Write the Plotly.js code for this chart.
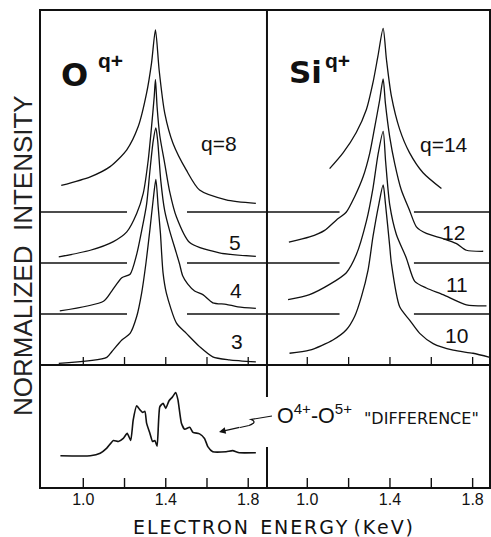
<!DOCTYPE html>
<html>
<head>
<meta charset="utf-8">
<script src="https://cdn.plot.ly/plotly-3.0.1.min.js"></script>
<style>html,body{margin:0;padding:0;background:#fff;}#chart{width:491px;height:537px;}</style>
</head>
<body>
<div id="chart"></div>
<script>
// ---- Data (energy in keV, intensity in arbitrary normalized units above each baseline) ----
const E_O8 = [0.893,1.034,1.130,1.211,1.266,1.307,1.331,1.350,1.368,1.395,1.435,1.500,1.564,1.693,1.837];
const I_O8 = [0.52,0.69,0.89,1.22,1.67,2.33,2.92,3.57,2.78,1.94,1.35,0.82,0.43,0.24,0.17];

const E_O5 = [0.881,1.034,1.146,1.211,1.259,1.291,1.315,1.331,1.344,1.350,1.358,1.371,1.395,1.419,1.452,1.516,1.660,1.837];
const I_O5 = [0.12,0.25,0.42,0.61,0.97,1.37,2.02,2.67,3.26,3.60,3.06,2.50,1.95,1.40,0.90,0.40,0.20,0.13];

const E_O4 = [0.886,1.098,1.138,1.187,1.227,1.259,1.283,1.307,1.323,1.339,1.352,1.361,1.376,1.395,1.419,1.448,1.467,1.482,1.506,1.540,1.580,1.628,1.693,1.750,1.837];
const I_O4 = [0.06,0.25,0.45,0.71,0.78,1.17,1.63,2.15,2.80,3.39,3.65,3.39,2.61,2.02,1.63,1.24,0.98,0.75,0.59,0.45,0.38,0.22,0.19,0.14,0.11];

const E_O3 = [0.881,1.114,1.138,1.187,1.227,1.259,1.283,1.304,1.323,1.339,1.352,1.363,1.374,1.387,1.403,1.452,1.500,1.564,1.628,1.708,1.837];
const I_O3 = [0.03,0.15,0.26,0.49,0.62,0.95,1.41,2.00,2.65,3.24,3.64,3.11,2.59,1.80,1.41,0.82,0.62,0.36,0.16,0.10,0.06];

const E_Si14 = [1.108,1.173,1.237,1.286,1.318,1.342,1.367,1.383,1.407,1.447,1.495,1.560,1.649];
const I_Si14 = [0.85,1.16,1.56,2.01,2.54,3.06,3.60,2.99,2.27,1.62,1.16,0.77,0.46];

const E_Si12 = [0.911,1.011,1.084,1.140,1.189,1.229,1.270,1.302,1.326,1.350,1.367,1.378,1.399,1.423,1.455,1.495,1.528,1.576,1.657,1.722,1.770,1.851];
const I_Si12 = [0.41,0.51,0.64,0.84,1.00,1.30,1.69,2.15,2.66,3.19,3.61,3.13,2.47,1.95,1.43,1.03,0.71,0.58,0.48,0.38,0.25,0.23];

const E_Si11 = [0.907,1.011,1.108,1.189,1.237,1.286,1.318,1.342,1.367,1.379,1.399,1.431,1.479,1.520,1.576,1.657,1.770,1.867];
const I_Si11 = [0.28,0.38,0.58,0.81,1.16,1.82,2.47,3.12,3.58,2.99,2.14,1.56,1.10,0.64,0.51,0.38,0.18,0.16];

const E_Si10 = [0.914,1.011,1.124,1.189,1.229,1.262,1.294,1.318,1.347,1.367,1.378,1.399,1.407,1.447,1.495,1.544,1.609,1.706,1.802,1.883];
const I_Si10 = [0.23,0.29,0.49,0.69,0.95,1.34,1.86,2.52,3.17,3.53,3.17,2.32,1.99,1.14,0.88,0.62,0.42,0.29,0.23,0.15];

const E_DIFF = [0.889,1.034,1.082,1.114,1.146,1.170,1.194,1.213,1.230,1.242,1.259,1.275,1.288,1.299,1.307,1.323,1.336,1.347,1.358,1.371,1.387,1.400,1.416,1.432,1.448,1.459,1.476,1.492,1.516,1.532,1.564,1.588,1.604,1.628,1.693,1.724,1.757,1.837];
const I_DIFF = [0.12,0.12,0.17,0.27,0.42,0.40,0.46,0.56,0.42,0.82,1.10,1.02,0.97,0.99,0.76,0.56,0.40,0.42,0.31,1.08,1.15,1.05,1.20,1.27,1.36,1.22,0.76,0.64,0.68,0.58,0.55,0.46,0.30,0.20,0.20,0.22,0.18,0.18];

const O_LABELS = ['q=8','5','4','3'];
const SI_LABELS = ['q=14','12','11','10'];
const OFFSETS = [3,2,1,0];
const DIFF_OFFSET = -1.9;
const TICKVALS = [1.0,1.4,1.8];
const TICKTEXT = ['1.0','1.4','1.8'];
const MINOR_TICKS = [1.0,1.2,1.4,1.6,1.8];

// ---- Geometry helpers (decoration only) ----
const L = 40, T = 10, W = 450, H = 478;
const X = px => (px - L) / W;
const Y = py => (T + H - py) / H;
const SPLIT = 0.5044;
const XR1 = [0.790, 1.891], XR2 = [0.805, 1.884];
const YR = [-2.412, 6.961];
const unit = H / (YR[1] - YR[0]);

const lineStyle = {color:'#111', width:1.3, shape:'spline', smoothing:0.7};
const traces = [];
const oSets = [[E_O8,I_O8],[E_O5,I_O5],[E_O4,I_O4],[E_O3,I_O3]];
const siSets = [[E_Si14,I_Si14],[E_Si12,I_Si12],[E_Si11,I_Si11],[E_Si10,I_Si10]];
oSets.forEach((s,i)=>traces.push({x:s[0], y:s[1].map(v=>v+OFFSETS[i]), xaxis:'x', yaxis:'y', mode:'lines', line:lineStyle, hoverinfo:'skip', name:'O '+O_LABELS[i]}));
siSets.forEach((s,i)=>traces.push({x:s[0], y:s[1].map(v=>v+OFFSETS[i]), xaxis:'x2', yaxis:'y', mode:'lines', line:lineStyle, hoverinfo:'skip', name:'Si '+SI_LABELS[i]}));
traces.push({x:E_DIFF, y:I_DIFF.map(v=>v+DIFF_OFFSET), xaxis:'x', yaxis:'y', mode:'lines', line:{color:'#111', width:1.6, shape:'spline', smoothing:0.5}, hoverinfo:'skip', name:'difference'});

const shapes = [];
const blk = {color:'#111', width:2};
shapes.push({type:'rect', xref:'paper', yref:'paper', x0:0, x1:1, y0:0, y1:1, line:blk});
shapes.push({type:'line', xref:'paper', yref:'paper', x0:SPLIT, x1:SPLIT, y0:Y(397), y1:1, line:blk});
shapes.push({type:'line', xref:'paper', yref:'paper', x0:SPLIT, x1:SPLIT, y0:0, y1:Y(447), line:blk});
shapes.push({type:'line', xref:'paper', yref:'y', x0:0, x1:1, y0:0, y1:0, line:{color:'#111', width:1.8}});
const gapO = [1.212, 1.503], gapSi = [1.156, 1.516];
[1,2,3].forEach(o=>{
  shapes.push({type:'line', xref:'x', yref:'y', x0:XR1[0], x1:gapO[0], y0:o, y1:o, line:{color:'#111', width:1.6}});
  shapes.push({type:'line', xref:'x', yref:'y', x0:gapO[1], x1:XR1[1], y0:o, y1:o, line:{color:'#111', width:1.6}});
  shapes.push({type:'line', xref:'x2', yref:'y', x0:XR2[0], x1:gapSi[0], y0:o, y1:o, line:{color:'#111', width:1.6}});
  shapes.push({type:'line', xref:'x2', yref:'y', x0:gapSi[1], x1:XR2[1], y0:o, y1:o, line:{color:'#111', width:1.6}});
});
MINOR_TICKS.forEach(t=>{
  ['x','x2'].forEach(ax=>{
    shapes.push({type:'line', xref:ax, yref:'y', x0:t, x1:t, y0:0, y1:8/unit, line:{color:'#111', width:1.3}});
    shapes.push({type:'line', xref:ax, yref:'paper', x0:t, x1:t, y0:0, y1:10/H, line:{color:'#111', width:1.4}});
  });
});
const pth = 'M '+X(272)+','+Y(416)+' L '+X(251)+','+Y(419.5)+' Q '+X(258)+','+Y(422)+' '+X(249)+','+Y(425.5)+' L '+X(240)+','+Y(427.5);
shapes.push({type:'path', xref:'paper', yref:'paper', path:pth, line:{color:'#111', width:1.2}});

const lab = (text, px, py, size, extra) => Object.assign({text:text, xref:'paper', yref:'paper', x:X(px), y:Y(py), showarrow:false, xanchor:'center', yanchor:'middle', font:{family:'Liberation Sans, Arial, sans-serif', size:size, color:'#111'}}, extra||{});

const HS = '\u200A';
const spaced = s => s.split('').join(HS);

const annotations = [
  lab('<b>O</b>', 74, 75, 34, {font:{family:'DejaVu Sans, sans-serif', size:32, color:'#111'}}),
  lab('<b>q+</b>', 110, 60, 21),
  lab('<b>Si</b>', 305, 72, 32, {font:{family:'DejaVu Sans, sans-serif', size:31, color:'#111'}}),
  lab('<b>q+</b>', 337, 60, 21),
  lab(O_LABELS[0], 219, 143, 21),
  lab(O_LABELS[1], 235, 242, 21),
  lab(O_LABELS[2], 236, 290, 21),
  lab(O_LABELS[3], 237, 342, 21),
  lab(SI_LABELS[0], 444, 144, 21),
  lab(SI_LABELS[1], 453, 232, 21),
  lab(SI_LABELS[2], 457, 284, 21),
  lab(SI_LABELS[3], 456, 335, 21),
  lab('O<sup>4+</sup>-O<sup>5+</sup>', 275, 414, 21.5, {xanchor:'left'}),
  lab('"DIFFERENCE"', 362, 418, 17, {xanchor:'left', font:{family:'DejaVu Sans, sans-serif', size:16, color:'#111'}}),
  lab('NORMALIZED  INTENSITY', 23, 256, 26, {textangle:-90, font:{family:'Liberation Sans, Arial, sans-serif', size:26, color:'#222'}}),
  lab(spaced('ELECTRON')+'  '+spaced('ENERGY')+' '+spaced('(KeV)'), 273, 527, 19, {font:{family:'DejaVu Sans, sans-serif', size:19, color:'#111'}}),
  {text:'', xref:'paper', yref:'paper', x:X(219), y:Y(432), ax:22, ay:-5, showarrow:true, arrowhead:2, arrowsize:1.1, arrowwidth:1.2, arrowcolor:'#111'}
];

const xcommon = {tickvals:TICKVALS, ticktext:TICKTEXT, ticks:'', showgrid:false, zeroline:false, showline:false, tickfont:{family:'Liberation Sans, Arial, sans-serif', size:16, color:'#111'}, anchor:'y', fixedrange:true};

const layout = {
  width:491, height:537,
  margin:{l:L, r:491-L-W, t:T, b:537-T-H, pad:0},
  paper_bgcolor:'#fff', plot_bgcolor:'#fff',
  showlegend:false,
  xaxis:Object.assign({domain:[0,SPLIT], range:XR1}, xcommon),
  xaxis2:Object.assign({domain:[SPLIT,1], range:XR2}, xcommon),
  yaxis:{domain:[0,1], range:YR, showticklabels:false, showgrid:false, zeroline:false, showline:false, ticks:'', fixedrange:true},
  shapes:shapes,
  annotations:annotations
};

Plotly.newPlot('chart', traces, layout, {displayModeBar:false, staticPlot:true});
</script>
</body>
</html>
